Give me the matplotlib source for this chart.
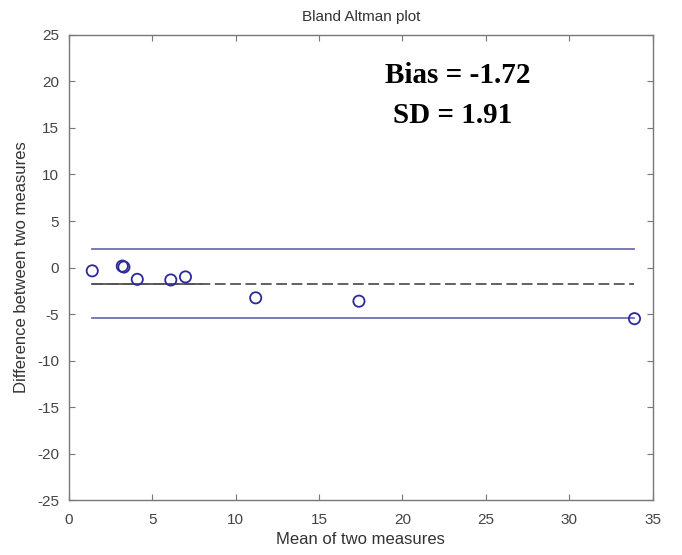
import numpy as np
import matplotlib
matplotlib.use("Agg")
import matplotlib.pyplot as plt

# data (mean vs difference)
mean_vals = [1.40, 3.20, 3.30, 4.10, 6.11, 6.99, 11.20, 17.39, 33.91]
diff_vals = [-0.36, 0.15, 0.05, -1.27, -1.34, -1.01, -3.26, -3.62, -5.50]
bias = -1.72
sd = 1.91
solid_mean_end = 8.0   # short solid stretch of the mean line seen on the left

x_ticks = [0, 5, 10, 15, 20, 25, 30, 35]
y_ticks = [-25, -20, -15, -10, -5, 0, 5, 10, 15, 20, 25]

plt.rcParams["font.family"] = ["Liberation Sans", "DejaVu Sans"]
plt.rcParams["axes.unicode_minus"] = False

fig = plt.figure(figsize=(6.82, 5.55), dpi=100)
ax = fig.add_axes([0.101, 0.099, 0.856, 0.838])

x_lo, x_hi = min(mean_vals), max(mean_vals)
upper = bias + 1.96 * sd
lower = bias - 1.96 * sd

ax.plot([x_lo, x_hi], [upper, upper], color="#6e6eb0", lw=1.3)
ax.plot([x_lo, x_hi], [lower, lower], color="#6e6eb0", lw=1.3)
ax.plot([x_lo, x_hi], [bias, bias], color="#555555", lw=1.3,
        linestyle=(0, (6, 2.5)))
ax.plot([x_lo, solid_mean_end], [bias, bias], color="#555555", lw=1.3)
ax.scatter(mean_vals, diff_vals, s=65, facecolors="none",
           edgecolors="#2a2a9a", linewidths=1.3, zorder=3)

ax.text(23.3, 20.6, f"Bias = {bias:.2f}", family="Liberation Serif",
        fontweight="bold", fontsize=21, ha="center", va="center")
ax.text(23.0, 16.3, f"SD = {sd:.2f}", family="Liberation Serif",
        fontweight="bold", fontsize=21, ha="center", va="center")

ax.set_xlim(0, 35)
ax.set_ylim(-25, 25)
ax.set_xticks(x_ticks)
ax.set_yticks(y_ticks)
ax.tick_params(direction="in", length=4, top=True, right=True,
               colors="#777777", labelcolor="#444444", labelsize=11)
ax.tick_params(axis="x", pad=9)
ax.tick_params(axis="y", pad=7)
for s in ax.spines.values():
    s.set_color("#777777")
    s.set_linewidth(1.0)

ax.set_title("Bland Altman plot", fontsize=11, color="#333333", pad=10)
ax.set_xlabel("Mean of two measures", fontsize=12, color="#333333", labelpad=4)
ax.set_ylabel("Difference between two measures", fontsize=12, color="#333333",
              labelpad=6)

fig.savefig("out.png", dpi=100)
